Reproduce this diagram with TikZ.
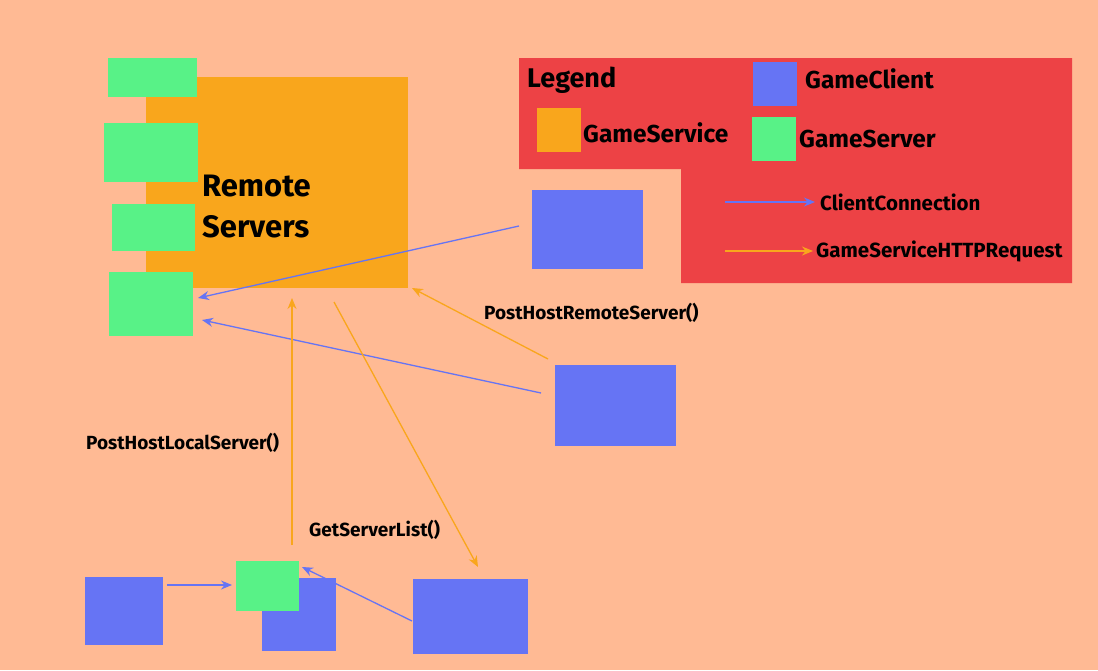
\documentclass[tikz,border=0pt]{standalone}
\usepackage{fontspec}
\setmainfont{Fira Sans}
\usetikzlibrary{arrows.meta}
\definecolor{bgc}{HTML}{FFBA94}
\definecolor{svc}{HTML}{F9A61C}
\definecolor{srv}{HTML}{58F287}
\definecolor{cli}{HTML}{6674F4}
\definecolor{leg}{HTML}{ED4245}
\tikzset{
  box/.style={anchor=north west, inner sep=0pt, outer sep=0pt, draw=none},
  svcbox/.style={box, fill=svc},
  srvbox/.style={box, fill=srv},
  clibox/.style={box, fill=cli},
  conn/.style={draw=cli, line width=1.3pt, -{Stealth[length=11pt,width=9pt]}},
  req/.style={draw=svc, line width=1.3pt, -{Stealth[length=11pt,width=9pt]}},
  lbl/.style={anchor=west, inner sep=0pt, font=\bfseries\fontsize{19}{22}\selectfont},
  leglbl/.style={anchor=west, inner sep=0pt, font=\bfseries\fontsize{20.5}{24}\selectfont},
  big/.style={anchor=base west, inner sep=0pt, font=\bfseries\fontsize{31}{36}\selectfont},
  mid/.style={anchor=west, inner sep=0pt, font=\bfseries\fontsize{24.5}{28}\selectfont},
}
\begin{document}
\begin{tikzpicture}[x=1pt,y=-1pt]
\fill[bgc] (0,0) rectangle (1098,670);
\useasboundingbox (0,0) rectangle (1098,670);
% legend background
\fill[leg] (519,58) -- (1072,58) -- (1072,283) -- (681,283) -- (681,169) -- (519,169) -- cycle;
\node[anchor=west, inner sep=0pt, font=\bfseries\fontsize{27}{33}\selectfont] (legtitle) at (527,80) {Legend};
\node[svcbox, minimum width=44pt, minimum height=44pt] (legsvc) at (537,108) {};
\node[mid] (legsvct) at (583,133) {GameService};
\node[clibox, minimum width=44pt, minimum height=44pt] (legcli) at (753,62) {};
\node[mid] (legclit) at (805,79) {GameClient};
\node[srvbox, minimum width=44pt, minimum height=44pt] (legsrv) at (752,117) {};
\node[mid] (legsrvt) at (799,139) {GameServer};
\coordinate (lc1) at (725,202);
\coordinate (lc2) at (815,202);
\draw[conn] (lc1) -- (lc2);
\node[leglbl] (lct) at (820,202) {ClientConnection};
\coordinate (lr1) at (725,251);
\coordinate (lr2) at (813,251);
\draw[req] (lr1) -- (lr2);
\node[leglbl] (lrt) at (816,251) {GameServiceHTTPRequest};
% game service
\node[svcbox, minimum width=262pt, minimum height=211pt] (gs) at (146,77) {};
\node[srvbox, minimum width=89pt, minimum height=39pt] (s1) at (108,58) {};
\node[srvbox, minimum width=94pt, minimum height=59pt] (s2) at (104,123) {};
\node[srvbox, minimum width=83pt, minimum height=47pt] (s3) at (112,204) {};
\node[srvbox, minimum width=84pt, minimum height=64pt] (s4) at (109,272) {};
\node[big] (rs1) at (202,196) {Remote};
\node[big] (rs2) at (202,237) {Servers};
% clients
\node[clibox, minimum width=111pt, minimum height=79pt] (ca) at (532,190) {};
\node[clibox, minimum width=121pt, minimum height=81pt] (cb) at (555,365) {};
\node[clibox, minimum width=78pt, minimum height=68pt] (cc) at (85,577) {};
\node[clibox, minimum width=74pt, minimum height=73pt] (cd) at (262,578) {};
\node[clibox, minimum width=115pt, minimum height=75pt] (ce) at (413,579) {};
\node[srvbox, minimum width=63pt, minimum height=50pt] (ls) at (236,561) {};
% connectors
\draw[conn] (519,226) -- (198,298);
\draw[conn] (541,393) -- (202,320);
\draw[req] (548,359) -- (412,288);
\draw[req] (292,545) -- (292,298);
\draw[req] (334,302) -- (478,567);
\draw[conn] (167,585) -- (232,585);
\draw[conn] (412,621) -- (302,567);
% labels
\node[lbl] (l1) at (484,313) {PostHostRemoteServer()};
\node[lbl] (l2) at (86,443) {PostHostLocalServer()};
\node[lbl] (l3) at (309,530) {GetServerList()};
\end{tikzpicture}
\end{document}
